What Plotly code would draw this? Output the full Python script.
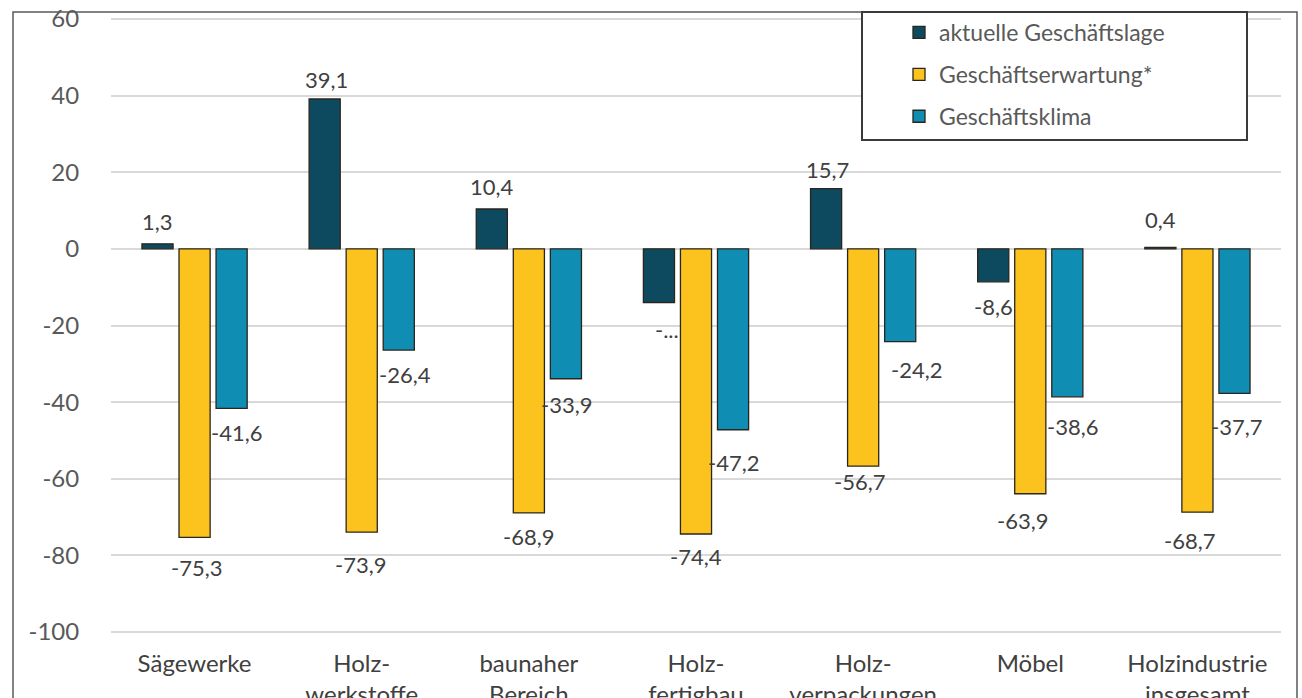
import plotly.graph_objects as go

# ---------------- data ----------------
categories = ["Sägewerke", "Holz-<br>werkstoffe", "baunaher<br>Bereich", "Holz-<br>fertigbau",
              "Holz-<br>verpackungen", "Möbel", "Holzindustrie<br>insgesamt"]
series_names = ["aktuelle Geschäftslage", "Geschäftserwartung*", "Geschäftsklima"]
aktuelle = [1.3, 39.1, 10.4, -14.0, 15.7, -8.6, 0.4]
erwartung = [-75.3, -73.9, -68.9, -74.4, -56.7, -63.9, -68.7]
klima = [-41.6, -26.4, -33.9, -47.2, -24.2, -38.6, -37.7]
aktuelle_labels = ["1,3", "39,1", "10,4", "-...", "15,7", "-8,6", "0,4"]
y_ticks = [-100, -80, -60, -40, -20, 0, 20, 40, 60]

# ---------------- style ----------------
colors = ["#0d4a5f", "#fcc31e", "#0f8db2"]
W, H = 1302, 698
ML, MT = 111, 17
PW, PH = 1170, 617
MR = W - ML - PW
MB = H - MT - PH
Y_RANGE = [-100.5, 60.5]
BARGAP = 0.335
GROUPGAP = 0.16
FONT = "Lato, 'Open Sans', sans-serif"

# label offsets (pixels: dx right, dy down) per series
label_dx = [[0, 2, 0, 8, 1, 0, 0],
            [2, -1, 0, 0, -4, -8, -8],
            [5, 6, 1, 0, 16, 5, 2]]
label_dy = [[-22, -20, -23, 27, -19, 25, -28],
            [30, 32, 24, 23, 15, 27, 28],
            [24, 24, 26, 33, 28, 30, 33]]


def px_x(p):
    return (p - ML) / PW


def px_y(p):
    return (H - MB - p) / PH


def fmt(v):
    return ("%.1f" % v).replace(".", ",")


series_values = [aktuelle, erwartung, klima]
series_labels = [aktuelle_labels, [fmt(v) for v in erwartung], [fmt(v) for v in klima]]

fig = go.Figure()
for k in range(3):
    fig.add_trace(go.Bar(
        x=categories, y=series_values[k], name=series_names[k],
        marker=dict(color=colors[k], line=dict(color="#2a261e", width=1.3)),
        legendgroup="g%d" % k,
        hoverinfo="skip",
    ))

slot = (1 - BARGAP) / 3
annotations = []
for k in range(3):
    for i, v in enumerate(series_values[k]):
        annotations.append(dict(
            x=i + (k - 1) * slot, y=v, xref="x", yref="y",
            text=series_labels[k][i], showarrow=False,
            xanchor="center", yanchor="middle",
            xshift=label_dx[k][i], yshift=-label_dy[k][i],
            font=dict(family=FONT, size=22, color="#404040"),
        ))

shapes = [
    # outer frame
    dict(type="rect", xref="paper", yref="paper",
         x0=px_x(13), x1=px_x(1297), y0=px_y(760), y1=px_y(12),
         line=dict(color="#5a5a5a", width=1.5), fillcolor="rgba(0,0,0,0)", layer="above"),
    # legend box
    dict(type="rect", xref="paper", yref="paper",
         x0=px_x(862), x1=px_x(1247), y0=px_y(140), y1=px_y(12),
         line=dict(color="#3a3a3a", width=2), fillcolor="white", layer="above"),
]

fig.update_layout(
    width=W, height=H,
    margin=dict(l=ML, r=MR, t=MT, b=MB, autoexpand=False),
    paper_bgcolor="white", plot_bgcolor="white",
    barmode="group", bargap=BARGAP, bargroupgap=GROUPGAP,
    font=dict(family=FONT, color="#595959"),
    showlegend=True,
    legend=dict(
        x=px_x(899), y=px_y(11), xanchor="left", yanchor="top",
        bgcolor="rgba(0,0,0,0)", borderwidth=0,
        font=dict(family=FONT, size=23, color="#595959"),
        tracegroupgap=9, itemwidth=30,
    ),
    xaxis=dict(
        type="category", showgrid=False, zeroline=False, showline=False,
        ticks="outside", ticklen=8, tickcolor="rgba(0,0,0,0)",
        tickfont=dict(family=FONT, size=24, color="#404040"),
        automargin=False,
    ),
    yaxis=dict(
        range=Y_RANGE, tickvals=y_ticks, ticktext=[str(t) for t in y_ticks],
        showgrid=True, gridcolor="#d9d9d9", gridwidth=1.5,
        zeroline=False, showline=False,
        ticks="outside", ticklen=26, tickcolor="rgba(0,0,0,0)",
        tickfont=dict(family=FONT, size=24, color="#595959"),
        automargin=False,
    ),
    annotations=annotations,
    shapes=shapes,
)

fig.write_html("out.html")
